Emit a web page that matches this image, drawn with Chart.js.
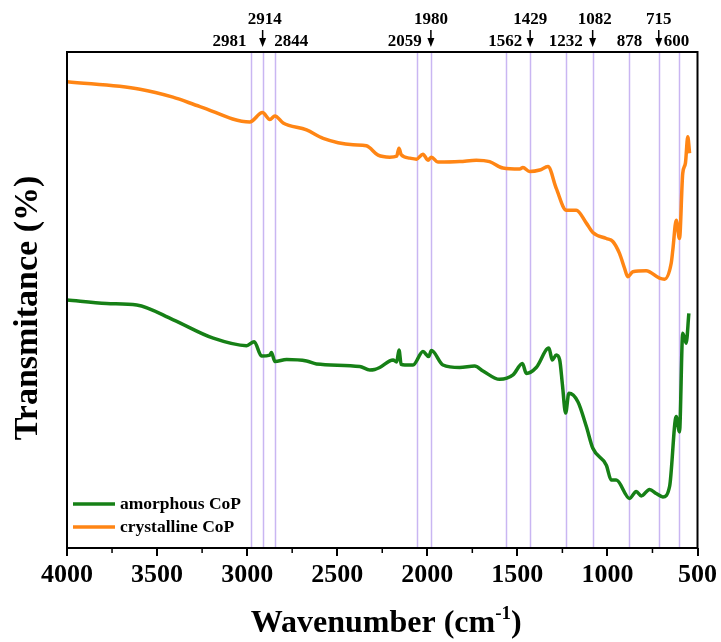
<!DOCTYPE html>
<html>
<head>
<meta charset="utf-8">
<script src="https://cdn.jsdelivr.net/npm/chart.js@4.4.0/dist/chart.umd.min.js"></script>
<style>
  html, body { margin: 0; padding: 0; background: #fff; }
</style>
</head>
<body>
<canvas id="ftir" width="721" height="642"></canvas>
<script>
// wavenumbers (cm-1) and transmittance (arb. units, offset)
const crystWn = [4000, 3595, 3412, 3262, 2985, 2915, 2874, 2846, 2800, 2670, 2578, 2412, 2338, 2273,
  2208, 2170, 2157, 2145, 2097, 2060, 2024, 1996, 1977, 1941, 1820, 1728, 1654, 1580, 1487, 1469,
  1432, 1376, 1330, 1284, 1228, 1173, 1117, 1081, 1006, 970, 933, 905, 887, 859, 785, 711, 683,
  646, 637, 618, 600, 582, 567, 554, 544];
const crystVal = [94.0, 92.5, 90.9, 89.0, 85.9, 87.8, 86.4, 87.1, 85.7, 84.3, 82.6, 81.3, 81.1, 79.2,
  78.8, 79.0, 80.6, 79.3, 78.6, 78.4, 79.4, 78.2, 78.8, 77.8, 77.9, 78.2, 77.9, 76.6, 76.4, 76.7,
  75.9, 76.2, 76.9, 72.5, 68.1, 68.1, 65.5, 63.6, 62.4, 61.8, 59.4, 56.4, 54.7, 55.7, 55.9, 54.4, 54.2,
  57.4, 60.1, 66.1, 62.4, 75.5, 77.6, 82.9, 79.6];

const amorWn = [4000, 3780, 3613, 3410, 3188, 3003, 2961, 2920, 2874, 2865, 2846, 2781, 2670, 2615,
  2375, 2319, 2292, 2264, 2190, 2170, 2157, 2145, 2125, 2079, 2024, 1992, 1977, 1913, 1820, 1737,
  1691, 1598, 1524, 1472, 1450, 1395, 1325, 1306, 1284, 1265, 1250, 1232, 1214, 1164, 1117, 1081,
  1006, 979, 951, 877, 840, 812, 766, 729, 692, 655, 618, 600, 582, 563, 548];
const amorVal = [50.0, 49.3, 49.0, 46.0, 42.3, 40.8, 41.6, 38.7, 38.9, 39.4, 37.6, 38.0, 37.7, 37.1,
  36.6, 35.9, 36.0, 36.4, 37.9, 37.5, 39.9, 37.0, 36.9, 36.9, 39.6, 38.6, 39.8, 36.9, 36.4, 36.7,
  35.7, 34.0, 34.9, 37.2, 35.2, 36.4, 40.3, 37.9, 38.9, 37.9, 33.0, 27.2, 31.2, 29.5, 24.5, 20.1,
  16.7, 13.7, 13.7, 10.0, 11.4, 10.5, 11.8, 11.0, 10.3, 12.4, 26.5, 23.4, 43.3, 41.3, 47.3];

// marked band positions: top row gets an arrow
const peaksArrow = [2914, 1980, 1429, 1082, 715];
const peaksPlain = [2981, 2844, 2059, 1562, 1232, 878, 600];

const seriesNames = ["amorphous CoP", "crystalline CoP"];
const xTicks = [4000, 3500, 3000, 2500, 2000, 1500, 1000, 500];

const SERIF = "'Liberation Serif', 'Times New Roman', serif";

function toPoints(wn, val) {
  return wn.map((w, i) => ({ x: w, y: val[i] }));
}

// small sideways nudges of the peak labels so they don't collide (px)
const labelNudge = { 2981: -21, 2844: 16, 2059: -12, 1562: -1, 600: -3, 2914: 2, 1082: 2 };

const ftirPlugin = {
  id: "ftirDecor",
  beforeDatasetsDraw(chart) {
    const { ctx, chartArea: a, scales } = chart;
    ctx.save();
    ctx.strokeStyle = "#c9b6f2";
    ctx.lineWidth = 1.5;
    peaksArrow.concat(peaksPlain).forEach(p => {
      const x = Math.round(scales.x.getPixelForValue(p)) + 0.5;
      ctx.beginPath();
      ctx.moveTo(x, a.top);
      ctx.lineTo(x, a.bottom);
      ctx.stroke();
    });
    ctx.restore();
  },
  afterDatasetsDraw(chart) {
    const { ctx, chartArea: a, scales } = chart;
    ctx.save();

    // frame
    ctx.strokeStyle = "#000";
    ctx.lineWidth = 2;
    ctx.strokeRect(a.left, a.top, a.right - a.left, a.bottom - a.top);

    // minor ticks
    ctx.lineWidth = 1.5;
    for (let v = 3750; v > 500; v -= 500) {
      const x = scales.x.getPixelForValue(v);
      ctx.beginPath();
      ctx.moveTo(x, a.bottom);
      ctx.lineTo(x, a.bottom + 5);
      ctx.stroke();
    }

    // peak labels
    ctx.fillStyle = "#000";
    ctx.font = "bold 17px " + SERIF;
    ctx.textAlign = "center";
    ctx.textBaseline = "middle";
    peaksPlain.forEach(p => {
      const x = scales.x.getPixelForValue(p) + (labelNudge[p] || 0);
      ctx.fillText(String(p), x, 42);
    });
    peaksArrow.forEach(p => {
      const lx = scales.x.getPixelForValue(p);
      ctx.fillText(String(p), lx + (labelNudge[p] || 0), 20);
      ctx.lineWidth = 1.5;
      ctx.beginPath();
      ctx.moveTo(lx, 30);
      ctx.lineTo(lx, 41);
      ctx.stroke();
      ctx.beginPath();
      ctx.moveTo(lx - 3.5, 38);
      ctx.lineTo(lx + 3.5, 38);
      ctx.lineTo(lx, 47);
      ctx.closePath();
      ctx.fill();
    });

    // legend inside plot, bottom left
    chart.data.datasets.forEach((ds, i) => {
      const y = 504 + i * 23;
      ctx.strokeStyle = ds.borderColor;
      ctx.lineWidth = 3.5;
      ctx.beginPath();
      ctx.moveTo(a.left + 6, y);
      ctx.lineTo(a.left + 48, y);
      ctx.stroke();
      ctx.fillStyle = "#000";
      ctx.textAlign = "left";
      ctx.font = "bold 17.5px " + SERIF;
      ctx.fillText(ds.label, a.left + 53, y);
    });

    // axis titles
    ctx.fillStyle = "#000";
    ctx.textBaseline = "alphabetic";
    const big = "bold 32px " + SERIF;
    const small = "bold 19px " + SERIF;
    ctx.font = big;
    const part1 = "Wavenumber (cm";
    const part3 = ")";
    const w1 = ctx.measureText(part1).width;
    const w3 = ctx.measureText(part3).width;
    ctx.font = small;
    const w2 = ctx.measureText("-1").width;
    const cx = (a.left + a.right) / 2 + 4;
    let x0 = cx - (w1 + w2 + w3) / 2;
    const base = 632;
    ctx.textAlign = "left";
    ctx.font = big;
    ctx.fillText(part1, x0, base);
    ctx.font = small;
    ctx.fillText("-1", x0 + w1, base - 13);
    ctx.font = big;
    ctx.fillText(part3, x0 + w1 + w2, base);

    ctx.translate(28, (a.top + a.bottom) / 2 + 8);
    ctx.rotate(-Math.PI / 2);
    ctx.textAlign = "center";
    ctx.textBaseline = "middle";
    ctx.font = "bold 34px " + SERIF;
    ctx.fillText("Transmitance (%)", 0, 0);

    ctx.restore();
  }
};

new Chart(document.getElementById("ftir"), {
  type: "line",
  data: {
    datasets: [
      {
        label: seriesNames[0],
        data: toPoints(amorWn, amorVal),
        borderColor: "#168016",
        borderWidth: 3.5,
        pointRadius: 0,
        fill: false,
        cubicInterpolationMode: "monotone"
      },
      {
        label: seriesNames[1],
        data: toPoints(crystWn, crystVal),
        borderColor: "#ff8514",
        borderWidth: 3.5,
        pointRadius: 0,
        fill: false,
        cubicInterpolationMode: "monotone"
      }
    ]
  },
  options: {
    responsive: false,
    devicePixelRatio: 1,
    animation: false,
    layout: { padding: { top: 52, right: 23, left: 0, bottom: 0 } },
    plugins: { legend: { display: false }, tooltip: { enabled: false } },
    scales: {
      x: {
        type: "linear",
        reverse: true,
        min: 500,
        max: 4000,
        afterFit(s) { s.height = 94; },
        afterBuildTicks(s) { s.ticks = xTicks.map(v => ({ value: v })); },
        ticks: {
          color: "#000",
          font: { family: SERIF, size: 26, weight: "bold" },
          padding: 4,
          maxRotation: 0,
          autoSkip: false,
          callback: v => String(v)
        },
        grid: { drawOnChartArea: false, drawTicks: true, tickLength: 8, color: "#000", lineWidth: 2 },
        border: { display: false }
      },
      y: {
        min: 0,
        max: 100,
        afterFit(s) { s.width = 67; },
        ticks: { display: false },
        grid: { display: false },
        border: { display: false }
      }
    }
  },
  plugins: [ftirPlugin]
});
</script>
</body>
</html>
